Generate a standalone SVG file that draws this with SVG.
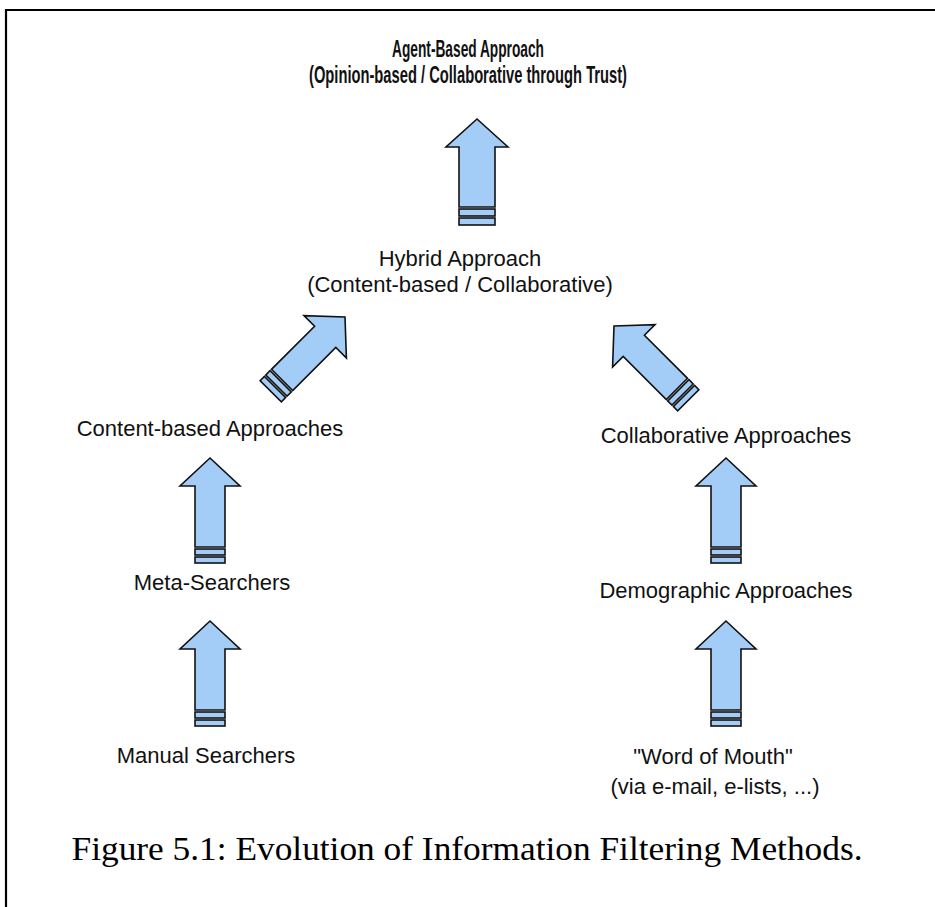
<svg xmlns="http://www.w3.org/2000/svg" width="935" height="907" viewBox="0 0 935 907">
  <style>
    .lbl { font-family: "Liberation Sans", Arial, sans-serif; font-size: 22px; fill: #111; text-anchor: middle; }
    .ttl { font-family: "Liberation Sans", Arial, sans-serif; font-size: 24px; font-weight: bold; fill: #111; text-anchor: middle; }
    .cap { font-family: "Liberation Serif", "Times New Roman", serif; font-size: 33px; fill: #000; text-anchor: middle; }
    .ar  { fill: #a3cdf7; stroke: #111; stroke-width: 1.6; stroke-linejoin: miter; }
  </style>
  <defs>
    <!-- block arrow pointing up, tip at origin, striped tail -->
    <g id="blockArrow">
      <path class="ar" d="M0,0 L30,28 L15,28 L15,89 L-15,89 L-15,28 L-30,28 Z"/>
      <rect class="ar" x="-15" y="91" width="30" height="6"/>
      <rect class="ar" x="-15" y="99" width="30" height="6"/>
    </g>
    <!-- wider variant used under the title -->
    <g id="blockArrowWide">
      <path class="ar" d="M0,0 L31,28 L18,28 L18,88 L-18,88 L-18,28 L-31,28 Z"/>
      <rect class="ar" x="-18" y="90" width="36" height="7"/>
      <rect class="ar" x="-18" y="99" width="36" height="7"/>
    </g>
  </defs>

  <!-- frame -->
  <path d="M6,907 L6,10 L935,10" fill="none" stroke="#000" stroke-width="2.2"/>

  <g id="agent">
    <text class="ttl" x="468" y="57" textLength="152" lengthAdjust="spacingAndGlyphs">Agent-Based Approach</text>
    <text class="ttl" x="468" y="83" textLength="318" lengthAdjust="spacingAndGlyphs">(Opinion-based / Collaborative through Trust)</text>
  </g>
  <g id="hybrid">
    <text class="lbl" x="460" y="266">Hybrid Approach</text>
    <text class="lbl" x="460" y="292">(Content-based / Collaborative)</text>
  </g>
  <g id="content">
    <text class="lbl" x="210" y="436">Content-based Approaches</text>
  </g>
  <g id="collaborative">
    <text class="lbl" x="726" y="443">Collaborative Approaches</text>
  </g>
  <g id="meta">
    <text class="lbl" x="212" y="590">Meta-Searchers</text>
  </g>
  <g id="demographic">
    <text class="lbl" x="726" y="598">Demographic Approaches</text>
  </g>
  <g id="manual">
    <text class="lbl" x="206" y="763">Manual Searchers</text>
  </g>
  <g id="word">
    <text class="lbl" x="713" y="764">"Word of Mouth"</text>
    <text class="lbl" x="715" y="794">(via e-mail, e-lists, ...)</text>
  </g>

  <g id="connectors">
    <use href="#blockArrowWide" transform="translate(477,119)"/>
    <use href="#blockArrow" transform="translate(345,317) rotate(45)"/>
    <use href="#blockArrow" transform="translate(614,326) rotate(-45)"/>
    <use href="#blockArrow" transform="translate(210,458)"/>
    <use href="#blockArrow" transform="translate(726,458)"/>
    <use href="#blockArrow" transform="translate(210,621)"/>
    <use href="#blockArrow" transform="translate(726,621)"/>
  </g>

  <text class="cap" x="467" y="860" textLength="791" lengthAdjust="spacingAndGlyphs">Figure 5.1: Evolution of Information Filtering Methods.</text>
</svg>
